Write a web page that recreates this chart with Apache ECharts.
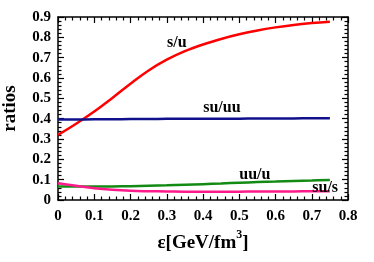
<!DOCTYPE html>
<html><head><meta charset="utf-8">
<script src="https://cdn.jsdelivr.net/npm/echarts@6/dist/echarts.min.js"></script>
<style>html,body{margin:0;padding:0;background:#fff}#c{width:374px;height:262px}</style>
</head><body><div id="c"></div>
<script>
var eps = [0, 0.05, 0.1, 0.15, 0.2, 0.25, 0.3, 0.35, 0.4, 0.45, 0.5, 0.55, 0.6, 0.65, 0.7, 0.75];
var su_u = [0.32, 0.375, 0.435, 0.502, 0.572, 0.637, 0.69, 0.732, 0.765, 0.792, 0.815, 0.834, 0.849, 0.861, 0.87, 0.877];
var su_uu = [0.396, 0.396, 0.397, 0.397, 0.398, 0.398, 0.399, 0.399, 0.4, 0.4, 0.4, 0.401, 0.401, 0.401, 0.402, 0.402];
var uu_u = [0.067, 0.066, 0.066, 0.067, 0.068, 0.07, 0.072, 0.075, 0.078, 0.081, 0.085, 0.088, 0.091, 0.094, 0.096, 0.098];
var su_s = [0.082, 0.07, 0.058, 0.05, 0.045, 0.043, 0.042, 0.041, 0.041, 0.041, 0.041, 0.042, 0.042, 0.042, 0.043, 0.043];
var seriesNames = ['s/u', 'su/uu', 'uu/u', 'su/s'];
var xTicks = [0, 0.1, 0.2, 0.3, 0.4, 0.5, 0.6, 0.7, 0.8];
var yTicks = [0, 0.1, 0.2, 0.3, 0.4, 0.5, 0.6, 0.7, 0.8, 0.9];

var font = 'Liberation Serif';
function pairs(ys){ return eps.map(function(x,i){ return [x, ys[i]]; }); }
function mk(name, ys, color, lx, ly){
  return {
    name: name, type: 'line', data: pairs(ys), smooth: 0.4, showSymbol: false,
    lineStyle: {color: color, width: 2.5}, xAxisIndex: 0, yAxisIndex: 0,
    markPoint: {symbol: 'circle', symbolSize: 1, silent: true, animation: false,
      itemStyle: {color: 'rgba(0,0,0,0)'},
      label: {show: true, formatter: name, color: '#000', fontFamily: font, fontWeight: 'bold', fontSize: 16, position: 'inside'},
      data: [{coord: [lx, ly]}]}
  };
}
var axisCommon = function(pos, showLabels, ticks, mx){
  return {
    type: 'value', position: pos, min: 0, max: mx, interval: 0.1,
    axisLine: {show: true, onZero: false, lineStyle: {color: '#000', width: 1.5}},
    axisTick: {show: true, inside: true, length: 6, lineStyle: {color: '#000', width: 1.2}},
    minorTick: {show: true, splitNumber: 5, length: 3.5, lineStyle: {color: '#000', width: 1.2}},
    splitLine: {show: false},
    axisLabel: {show: showLabels, color: '#000', fontFamily: font, fontWeight: 'bold', fontSize: 15,
      formatter: function(v){ var r = Math.round(v*10)/10; return ticks.indexOf(r) >= 0 ? String(r) : ''; }}
  };
};
var xb = axisCommon('bottom', true, xTicks, 0.8);
xb.axisLabel.margin = 9;
xb.name = '{a|ε[GeV/fm}{s|3}{a|]}';
xb.nameLocation = 'middle'; xb.nameGap = 29;
xb.nameTextStyle = {rich: {a: {fontFamily: font, fontWeight: 'bold', fontSize: 19, color: '#000', verticalAlign: 'bottom'},
  s: {fontFamily: font, fontWeight: 'bold', fontSize: 12, color: '#000', verticalAlign: 'top', padding: [0,0,12,0]}}};
var xt = axisCommon('top', false, xTicks, 0.8);
var yl = axisCommon('left', true, yTicks, 0.9);
yl.axisLabel.margin = 7;
yl.name = 'ratios'; yl.nameLocation = 'middle'; yl.nameGap = 38; yl.nameRotate = 90;
yl.nameTextStyle = {fontFamily: font, fontWeight: 'bold', fontSize: 19, color: '#000'};
var yr = axisCommon('right', false, yTicks, 0.9);

var chart = echarts.init(document.getElementById('c'), null, {renderer: 'canvas'});
chart.setOption({
  animation: false,
  backgroundColor: '#fff',
  grid: {left: 58, right: 26, top: 17, bottom: 62, containLabel: false, outerBoundsMode: 'none'},
  xAxis: [xb, xt],
  yAxis: [yl, yr],
  series: [
    mk(seriesNames[0], su_u, '#ff0000', 0.328, 0.772),
    mk(seriesNames[1], su_uu, '#10108c', 0.452, 0.452),
    mk(seriesNames[2], uu_u, '#138a13', 0.543, 0.123),
    mk(seriesNames[3], su_s, '#ff1a8c', 0.737, 0.059)
  ]
});
</script></body></html>
